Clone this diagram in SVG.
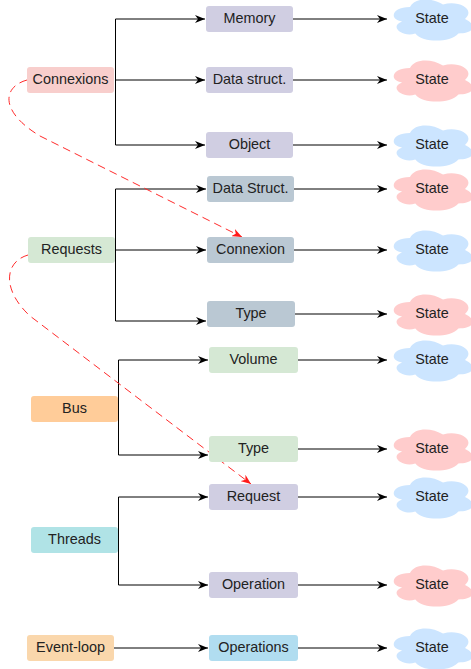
<svg xmlns="http://www.w3.org/2000/svg" xmlns:xlink="http://www.w3.org/1999/xlink" width="471" height="669" viewBox="0 0 471 669">
<style>
text{font-family:"Liberation Sans",Arial,Helvetica,sans-serif;font-size:14.4px;fill:#222;text-anchor:middle;dominant-baseline:central;transform:translate(0px,-1px)}
.ln{fill:none;stroke:#000;stroke-width:1}
.dl{fill:none;stroke:#ff2b2b;stroke-width:1;stroke-dasharray:8 5}
.pink{fill:#f8cecc}.lav{fill:#d0cee2}.grb{fill:#bac8d3}.grn{fill:#d5e8d4}.org{fill:#ffcc99}.teal{fill:#b0e3e6}.peach{fill:#fad7ac}.lblue{fill:#b1ddf0}
.cb{fill:#cce5ff}.cp{fill:#ffcccc}
</style>
<defs>
<marker id="ah" viewBox="0 0 10 8" refX="10" refY="4" markerWidth="10" markerHeight="8" markerUnits="userSpaceOnUse" orient="auto"><path d="M0,0 L10,4 L0,8 L3,4 Z" fill="#000"/></marker>
<marker id="ahr" viewBox="0 0 10 8" refX="10" refY="4" markerWidth="10" markerHeight="8" markerUnits="userSpaceOnUse" orient="auto"><path d="M0,0 L10,4 L0,8 L3,4 Z" fill="#ff1a1a"/></marker>
<path id="cloud" d="M22,12 C4.4,12 0,24 14.08,26.4 C0,31.68 15.84,43.2 27.28,38.4 C35.2,48 61.6,48 70.4,38.4 C88,38.4 88,28.8 77,24 C88,14.4 70.4,4.8 55,9.6 C44,2.4 26.4,2.4 22,12 Z"/>
</defs>

<g id="connectors">
<path class="ln" marker-end="url(#ah)" d="M115.5,80 V19 H205"/>
<path class="ln" marker-end="url(#ah)" d="M115.5,80 H205"/>
<path class="ln" marker-end="url(#ah)" d="M115.5,80 V145 H205"/>
<path class="ln" marker-end="url(#ah)" d="M115.5,250 V189 H206"/>
<path class="ln" marker-end="url(#ah)" d="M115.5,250 H206"/>
<path class="ln" marker-end="url(#ah)" d="M115.5,250 V321 H206"/>
<path class="ln" marker-end="url(#ah)" d="M118.5,409 V360 H208"/>
<path class="ln" marker-end="url(#ah)" d="M118.5,409 V455 H208"/>
<path class="ln" marker-end="url(#ah)" d="M118.5,540 V497 H208"/>
<path class="ln" marker-end="url(#ah)" d="M118.5,540 V585 H208"/>
<path class="ln" marker-end="url(#ah)" d="M114,648 H208"/>
<path class="ln" marker-end="url(#ah)" d="M293,19 H387"/>
<path class="ln" marker-end="url(#ah)" d="M293,80 H387"/>
<path class="ln" marker-end="url(#ah)" d="M293,145 H387"/>
<path class="ln" marker-end="url(#ah)" d="M294,189 H387"/>
<path class="ln" marker-end="url(#ah)" d="M294,250 H387"/>
<path class="ln" marker-end="url(#ah)" d="M294,314 H387"/>
<path class="ln" marker-end="url(#ah)" d="M298,360 H387"/>
<path class="ln" marker-end="url(#ah)" d="M298,449 H387"/>
<path class="ln" marker-end="url(#ah)" d="M298,497 H387"/>
<path class="ln" marker-end="url(#ah)" d="M298,585 H387"/>
<path class="ln" marker-end="url(#ah)" d="M298,648 H387"/>
<path class="dl" marker-end="url(#ahr)" d="M27,80 C2,87 0,112 40,136 L242,237"/>
<path class="dl" marker-end="url(#ahr)" d="M28,255 C4,262 2,290 30,316 L251,484"/>
</g>

<g id="n-connexions"><rect class="pink" x="27" y="67" width="87" height="26" rx="3"/><text x="70.5" y="80">Connexions</text></g>
<g id="n-memory"><rect class="lav" x="206" y="6" width="87" height="26" rx="3"/><text x="249.5" y="19">Memory</text></g>
<g id="n-datastruct1"><rect class="lav" x="206" y="67" width="87" height="26" rx="3"/><text x="249.5" y="80">Data struct.</text></g>
<g id="n-object"><rect class="lav" x="206" y="132" width="87" height="26" rx="3"/><text x="249.5" y="145">Object</text></g>

<g id="n-requests"><rect class="grn" x="28" y="237" width="87" height="26" rx="3"/><text x="71.5" y="250">Requests</text></g>
<g id="n-datastruct2"><rect class="grb" x="207" y="176" width="87" height="26" rx="3"/><text x="250.5" y="189">Data Struct.</text></g>
<g id="n-connexion"><rect class="grb" x="207" y="237" width="87" height="26" rx="3"/><text x="250.5" y="250">Connexion</text></g>
<g id="n-type1"><rect class="grb" x="207" y="301" width="88" height="26" rx="3"/><text x="251" y="314">Type</text></g>

<g id="n-bus"><rect class="org" x="31" y="396" width="87" height="26" rx="3"/><text x="74.5" y="409">Bus</text></g>
<g id="n-volume"><rect class="grn" x="209" y="347" width="89" height="26" rx="3"/><text x="253.5" y="360">Volume</text></g>
<g id="n-type2"><rect class="grn" x="209" y="436" width="89" height="26" rx="3"/><text x="253.5" y="449">Type</text></g>

<g id="n-threads"><rect class="teal" x="31" y="527" width="87" height="26" rx="3"/><text x="74.5" y="540">Threads</text></g>
<g id="n-request"><rect class="lav" x="209" y="484" width="89" height="26" rx="3"/><text x="253.5" y="497">Request</text></g>
<g id="n-operation"><rect class="lav" x="209" y="572" width="89" height="26" rx="3"/><text x="253.5" y="585">Operation</text></g>

<g id="n-eventloop"><rect class="peach" x="27" y="635" width="87" height="26" rx="3"/><text x="70.5" y="648">Event-loop</text></g>
<g id="n-operations"><rect class="lblue" x="209" y="635" width="89" height="26" rx="3"/><text x="253.5" y="648">Operations</text></g>

<g id="s1"><use href="#cloud" class="cb" x="388" y="-5"/><text x="432" y="19">State</text></g>
<g id="s2"><use href="#cloud" class="cp" x="388" y="56"/><text x="432" y="80">State</text></g>
<g id="s3"><use href="#cloud" class="cb" x="388" y="121"/><text x="432" y="145">State</text></g>
<g id="s4"><use href="#cloud" class="cp" x="388" y="165"/><text x="432" y="189">State</text></g>
<g id="s5"><use href="#cloud" class="cb" x="388" y="226"/><text x="432" y="250">State</text></g>
<g id="s6"><use href="#cloud" class="cp" x="388" y="290"/><text x="432" y="314">State</text></g>
<g id="s7"><use href="#cloud" class="cb" x="388" y="336"/><text x="432" y="360">State</text></g>
<g id="s8"><use href="#cloud" class="cp" x="388" y="425"/><text x="432" y="449">State</text></g>
<g id="s9"><use href="#cloud" class="cb" x="388" y="473"/><text x="432" y="497">State</text></g>
<g id="s10"><use href="#cloud" class="cp" x="388" y="561"/><text x="432" y="585">State</text></g>
<g id="s11"><use href="#cloud" class="cb" x="388" y="624"/><text x="432" y="648">State</text></g>
</svg>
